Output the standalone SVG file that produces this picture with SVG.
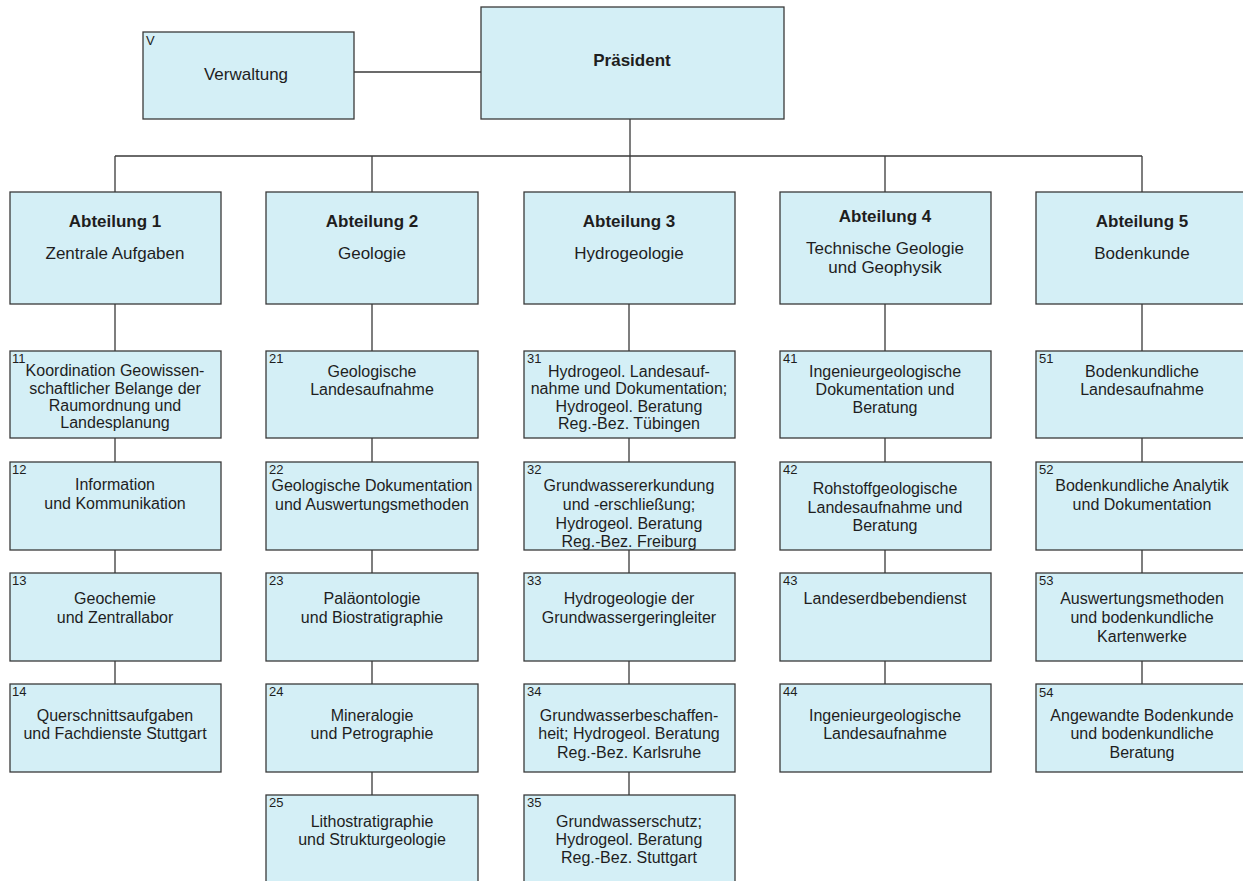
<svg xmlns="http://www.w3.org/2000/svg" width="1243" height="881" viewBox="0 0 1243 881">
<style>
.bg{fill:#ffffff}
.box{fill:#d4eff6;stroke:#3a3a3a;stroke-width:1.3}
.ln{stroke:#3a3a3a;stroke-width:1.3;fill:none}
text{font-family:"Liberation Sans",Arial,Helvetica,sans-serif;fill:#1e1e1e}
.t{font-size:16px;text-anchor:middle}
.h{font-size:17px;font-weight:bold;text-anchor:middle}
.s{font-size:17px;text-anchor:middle}
.n{font-size:13px;text-anchor:start}
</style>
<rect class="bg" x="0" y="0" width="1243" height="881"/>
<g id="connectors">
<path class="ln" d="M354,72H481"/>
<path class="ln" d="M630,119V156M115,156H1142M115,156V192M372,156V192M630,156V192M885,156V192M1142,156V192"/>
<path class="ln" d="M115,304V351M115,438V462M115,550V573M115,661V684"/>
<path class="ln" d="M372,304V351M372,438V462M372,550V573M372,661V684M372,772V795"/>
<path class="ln" d="M629,304V351M629,438V462M629,550V573M629,661V684M629,772V795"/>
<path class="ln" d="M885,304V351M885,438V462M885,550V573M885,661V684"/>
<path class="ln" d="M1142,304V351M1142,438V462M1142,550V573M1142,661V684"/>
</g>
<g id="praesident"><rect class="box" x="481" y="7" width="303" height="112"/><text class="h" x="632" y="66">Präsident</text></g>
<g id="verwaltung"><rect class="box" x="143" y="32" width="211" height="87"/><text class="n" x="146" y="45">V</text><text class="s" x="246" y="80">Verwaltung</text></g>
<g id="abt1"><rect class="box" x="10" y="192" width="211" height="112"/><text class="h" x="115" y="227">Abteilung 1</text><text class="s" x="115" y="259">Zentrale Aufgaben</text></g>
<g id="abt2"><rect class="box" x="266" y="192" width="212" height="112"/><text class="h" x="372" y="227">Abteilung 2</text><text class="s" x="372" y="259">Geologie</text></g>
<g id="abt3"><rect class="box" x="524" y="192" width="211" height="112"/><text class="h" x="629" y="227">Abteilung 3</text><text class="s" x="629" y="259">Hydrogeologie</text></g>
<g id="abt4"><rect class="box" x="780" y="192" width="211" height="112"/><text class="h" x="885" y="222">Abteilung 4</text><text class="s" x="885" y="254">Technische Geologie</text><text class="s" x="885" y="273">und Geophysik</text></g>
<g id="abt5"><rect class="box" x="1036" y="192" width="211" height="112"/><text class="h" x="1142" y="227">Abteilung 5</text><text class="s" x="1142" y="259">Bodenkunde</text></g>

<g id="n11"><rect class="box" x="10" y="351" width="211" height="87"/><text class="n" x="12" y="363">11</text><text class="t" x="115" y="376">Koordination Geowissen-</text><text class="t" x="115" y="394">schaftlicher Belange der</text><text class="t" x="115" y="411">Raumordnung und</text><text class="t" x="115" y="428">Landesplanung</text></g>
<g id="n12"><rect class="box" x="10" y="462" width="211" height="88"/><text class="n" x="12" y="474">12</text><text class="t" x="115" y="490">Information</text><text class="t" x="115" y="509">und Kommunikation</text></g>
<g id="n13"><rect class="box" x="10" y="573" width="211" height="88"/><text class="n" x="12" y="585">13</text><text class="t" x="115" y="604">Geochemie</text><text class="t" x="115" y="623">und Zentrallabor</text></g>
<g id="n14"><rect class="box" x="10" y="684" width="211" height="88"/><text class="n" x="12" y="696">14</text><text class="t" x="115" y="721">Querschnittsaufgaben</text><text class="t" x="115" y="739">und Fachdienste Stuttgart</text></g>

<g id="n21"><rect class="box" x="266" y="351" width="212" height="87"/><text class="n" x="269" y="363">21</text><text class="t" x="372" y="377">Geologische</text><text class="t" x="372" y="395">Landesaufnahme</text></g>
<g id="n22"><rect class="box" x="266" y="462" width="212" height="88"/><text class="n" x="269" y="474">22</text><text class="t" x="372" y="491">Geologische Dokumentation</text><text class="t" x="372" y="510">und Auswertungsmethoden</text></g>
<g id="n23"><rect class="box" x="266" y="573" width="212" height="88"/><text class="n" x="269" y="585">23</text><text class="t" x="372" y="604">Paläontologie</text><text class="t" x="372" y="623">und Biostratigraphie</text></g>
<g id="n24"><rect class="box" x="266" y="684" width="212" height="88"/><text class="n" x="269" y="696">24</text><text class="t" x="372" y="721">Mineralogie</text><text class="t" x="372" y="739">und Petrographie</text></g>
<g id="n25"><rect class="box" x="266" y="795" width="212" height="90"/><text class="n" x="269" y="807">25</text><text class="t" x="372" y="827">Lithostratigraphie</text><text class="t" x="372" y="845">und Strukturgeologie</text></g>

<g id="n31"><rect class="box" x="524" y="351" width="211" height="87"/><text class="n" x="527" y="363">31</text><text class="t" x="629" y="377">Hydrogeol. Landesauf-</text><text class="t" x="629" y="394">nahme und Dokumentation;</text><text class="t" x="629" y="412">Hydrogeol. Beratung</text><text class="t" x="629" y="429">Reg.-Bez. Tübingen</text></g>
<g id="n32"><rect class="box" x="524" y="462" width="211" height="88"/><text class="n" x="527" y="474">32</text><text class="t" x="629" y="491">Grundwassererkundung</text><text class="t" x="629" y="510">und -erschließung;</text><text class="t" x="629" y="529">Hydrogeol. Beratung</text><text class="t" x="629" y="547">Reg.-Bez. Freiburg</text></g>
<g id="n33"><rect class="box" x="524" y="573" width="211" height="88"/><text class="n" x="527" y="585">33</text><text class="t" x="629" y="604">Hydrogeologie der</text><text class="t" x="629" y="623">Grundwassergeringleiter</text></g>
<g id="n34"><rect class="box" x="524" y="684" width="211" height="88"/><text class="n" x="527" y="696">34</text><text class="t" x="629" y="721">Grundwasserbeschaffen-</text><text class="t" x="629" y="739">heit; Hydrogeol. Beratung</text><text class="t" x="629" y="758">Reg.-Bez. Karlsruhe</text></g>
<g id="n35"><rect class="box" x="524" y="795" width="211" height="90"/><text class="n" x="527" y="807">35</text><text class="t" x="629" y="827">Grundwasserschutz;</text><text class="t" x="629" y="845">Hydrogeol. Beratung</text><text class="t" x="629" y="863">Reg.-Bez. Stuttgart</text></g>

<g id="n41"><rect class="box" x="780" y="351" width="211" height="87"/><text class="n" x="783" y="363">41</text><text class="t" x="885" y="377">Ingenieurgeologische</text><text class="t" x="885" y="395">Dokumentation und</text><text class="t" x="885" y="413">Beratung</text></g>
<g id="n42"><rect class="box" x="780" y="462" width="211" height="88"/><text class="n" x="783" y="474">42</text><text class="t" x="885" y="494">Rohstoffgeologische</text><text class="t" x="885" y="513">Landesaufnahme und</text><text class="t" x="885" y="531">Beratung</text></g>
<g id="n43"><rect class="box" x="780" y="573" width="211" height="88"/><text class="n" x="783" y="585">43</text><text class="t" x="885" y="604">Landeserdbebendienst</text></g>
<g id="n44"><rect class="box" x="780" y="684" width="211" height="88"/><text class="n" x="783" y="696">44</text><text class="t" x="885" y="721">Ingenieurgeologische</text><text class="t" x="885" y="739">Landesaufnahme</text></g>

<g id="n51"><rect class="box" x="1036" y="351" width="211" height="87"/><text class="n" x="1039" y="363">51</text><text class="t" x="1142" y="377">Bodenkundliche</text><text class="t" x="1142" y="395">Landesaufnahme</text></g>
<g id="n52"><rect class="box" x="1036" y="462" width="211" height="88"/><text class="n" x="1039" y="474">52</text><text class="t" x="1142" y="491">Bodenkundliche Analytik</text><text class="t" x="1142" y="510">und Dokumentation</text></g>
<g id="n53"><rect class="box" x="1036" y="573" width="211" height="88"/><text class="n" x="1039" y="585">53</text><text class="t" x="1142" y="604">Auswertungsmethoden</text><text class="t" x="1142" y="623">und bodenkundliche</text><text class="t" x="1142" y="642">Kartenwerke</text></g>
<g id="n54"><rect class="box" x="1036" y="684" width="211" height="88"/><text class="n" x="1039" y="697">54</text><text class="t" x="1142" y="721">Angewandte Bodenkunde</text><text class="t" x="1142" y="739">und bodenkundliche</text><text class="t" x="1142" y="758">Beratung</text></g>
</svg>
